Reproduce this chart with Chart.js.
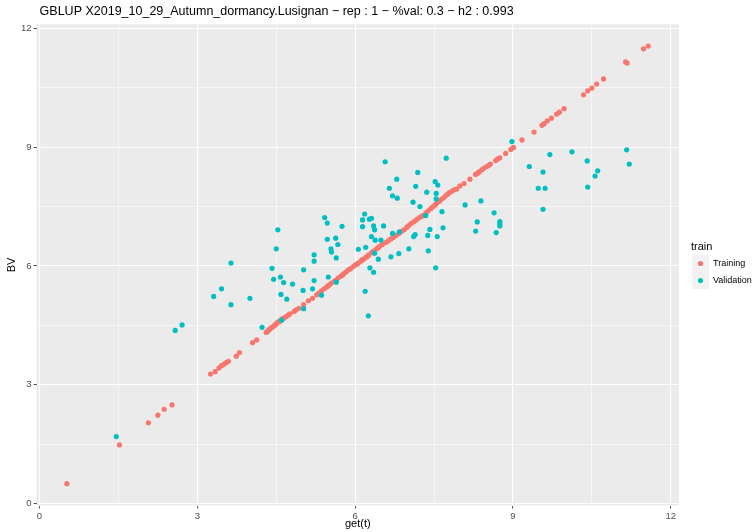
<!DOCTYPE html>
<html>
<head>
<meta charset="utf-8">
<script src="https://cdn.jsdelivr.net/npm/chart.js@4.4.1/dist/chart.umd.min.js"></script>
<style>
  html, body { margin: 0; padding: 0; background: #ffffff; }
  #wrap { width: 754px; height: 532px; position: relative; }
</style>
</head>
<body>
<div id="wrap"><canvas id="myChart" width="754" height="532"></canvas></div>
<script>
// training set: get(t) vs BV
const trainX = [
  0.52, 1.52, 2.07, 2.25, 2.37, 2.52, 3.25, 3.34, 3.41, 3.46, 3.51, 3.55, 3.59, 3.74, 3.80, 4.05, 4.13,
  4.31, 4.33, 4.34, 4.36, 4.38, 4.40, 4.43, 4.46, 4.48, 4.50, 4.53, 4.55, 4.57, 4.60, 4.62, 4.64, 4.69,
  4.71, 4.74, 4.76, 4.84, 4.88, 4.93, 5.02, 5.11, 5.19, 5.27, 5.30, 5.32, 5.36, 5.41, 5.46, 5.48, 5.50,
  5.54, 5.59, 5.62, 5.64, 5.68, 5.73, 5.76, 5.78, 5.82, 5.86, 5.89, 5.92, 5.97, 6.01, 6.04, 6.06, 6.11,
  6.13, 6.16, 6.21, 6.24, 6.26, 6.31, 6.34, 6.36, 6.41, 6.44, 6.47, 6.52, 6.58, 6.63, 6.68, 6.73, 6.78,
  6.83, 6.88, 6.93, 6.98, 7.02, 7.06, 7.11, 7.16, 7.21, 7.26, 7.30, 7.35, 7.39, 7.44, 7.48, 7.52, 7.55,
  7.60, 7.64, 7.68, 7.72, 7.76, 7.79, 7.84, 7.88, 7.93, 7.99, 8.07, 8.18, 8.29, 8.33, 8.36, 8.41, 8.45,
  8.50, 8.54, 8.57, 8.67, 8.71, 8.75, 8.86, 8.96, 9.01, 9.17, 9.40, 9.55, 9.59, 9.65, 9.73, 9.83, 9.88,
  9.97, 10.34, 10.42, 10.50, 10.59, 10.72, 11.14, 11.17, 11.48, 11.57
];
const trainY = [
  0.50, 1.48, 2.04, 2.23, 2.38, 2.49, 3.27, 3.33, 3.42, 3.48, 3.52, 3.56, 3.59, 3.72, 3.81, 4.06, 4.13,
  4.32, 4.34, 4.36, 4.38, 4.41, 4.43, 4.46, 4.49, 4.51, 4.54, 4.58, 4.59, 4.61, 4.65, 4.66, 4.68, 4.72,
  4.74, 4.77, 4.79, 4.85, 4.89, 4.93, 5.02, 5.12, 5.18, 5.27, 5.30, 5.32, 5.37, 5.42, 5.47, 5.49, 5.51,
  5.56, 5.60, 5.62, 5.64, 5.70, 5.74, 5.77, 5.80, 5.84, 5.89, 5.91, 5.94, 5.99, 6.03, 6.05, 6.07, 6.12,
  6.15, 6.17, 6.22, 6.25, 6.28, 6.33, 6.36, 6.38, 6.43, 6.46, 6.50, 6.54, 6.59, 6.63, 6.68, 6.72, 6.77,
  6.82, 6.87, 6.91, 6.97, 7.02, 7.07, 7.11, 7.16, 7.21, 7.25, 7.28, 7.34, 7.39, 7.45, 7.50, 7.54, 7.58,
  7.63, 7.68, 7.72, 7.77, 7.81, 7.85, 7.89, 7.92, 7.94, 8.02, 8.08, 8.19, 8.31, 8.34, 8.38, 8.43, 8.47,
  8.51, 8.54, 8.57, 8.66, 8.70, 8.73, 8.84, 8.94, 8.99, 9.18, 9.38, 9.55, 9.59, 9.66, 9.73, 9.83, 9.88,
  9.97, 10.32, 10.42, 10.49, 10.59, 10.72, 11.15, 11.12, 11.48, 11.55
];

// validation set
const validX = [
  1.46, 2.58, 2.71, 3.31, 3.46, 3.64, 3.64, 4.00, 4.23, 4.42, 4.45, 4.50, 4.53, 4.58, 4.59, 4.64, 4.70,
  4.60, 4.81, 5.01, 5.02, 5.02, 5.19, 5.22, 5.22, 5.22, 5.36, 5.42, 5.47, 5.47, 5.49, 5.54, 5.55, 5.63,
  5.64, 5.67, 5.75, 5.64, 6.06, 6.14, 6.14, 6.18, 6.20, 6.19, 6.25, 6.27, 6.31, 6.28, 6.31, 6.35, 6.35,
  6.37, 6.37, 6.44, 6.38, 6.49, 6.54, 6.57, 6.65, 6.68, 6.71, 6.71, 6.79, 6.80, 6.83, 6.84, 7.02, 7.10,
  7.11, 7.14, 7.15, 7.19, 7.23, 7.34, 7.36, 7.38, 7.39, 7.42, 7.52, 7.54, 7.54, 7.56, 7.53, 7.57, 7.65,
  7.67, 7.73, 8.09, 8.29, 8.32, 8.39, 8.64, 8.68, 8.75, 8.75, 8.75, 8.98, 9.31, 9.48, 9.57, 9.57, 9.61,
  9.70, 10.12, 10.41, 10.61, 10.56, 10.42, 11.16, 11.21
];
const validY = [
  1.69, 4.37, 4.51, 5.23, 5.42, 6.07, 5.02, 5.18, 4.45, 5.94, 5.66, 6.43, 6.91, 5.72, 5.28, 5.58, 5.16,
  4.63, 5.54, 5.38, 5.90, 4.92, 5.42, 6.12, 6.28, 5.63, 5.26, 7.22, 7.08, 6.67, 5.72, 6.43, 6.35, 6.70,
  6.20, 6.54, 7.00, 5.59, 6.42, 7.16, 6.99, 7.31, 6.47, 5.36, 4.74, 7.18, 7.20, 5.95, 6.74, 7.01, 5.84,
  6.91, 6.32, 6.17, 6.65, 6.65, 7.01, 8.63, 7.96, 6.23, 7.77, 6.82, 8.19, 7.71, 6.31, 6.86, 6.43, 7.61,
  6.74, 6.79, 8.01, 8.36, 7.50, 7.27, 7.86, 6.77, 6.38, 6.92, 8.13, 7.83, 7.69, 6.74, 5.95, 8.04, 7.37,
  6.96, 8.72, 7.54, 6.88, 7.11, 7.64, 7.34, 6.84, 7.12, 7.06, 7.01, 9.14, 8.51, 7.96, 8.37, 7.43, 7.96,
  8.81, 8.88, 8.65, 8.40, 8.27, 7.99, 8.93, 8.57
];

const tickValues = [0, 3, 6, 9, 12];
const seriesNames = ['Training', 'Validation'];
const seriesColors = ['#F8766D', '#00BFC4'];
const chartTitle = 'GBLUP X2019_10_29_Autumn_dormancy.Lusignan \u2212 rep : 1 \u2212 %val: 0.3 \u2212 h2 : 0.993';
const xTitle = 'get(t)';
const yTitle = 'BV';
const legendTitle = 'train';

const FONT = '"Liberation Sans", Arial, sans-serif';

const toPoints = (xs, ys) => xs.map((x, i) => ({ x: x, y: ys[i] }));

// major ticks every 3, minor grid every 1.5
const gridValues = [];
for (let v = 0; v <= 12; v += 1.5) gridValues.push(v);
const isMajor = (v) => tickValues.includes(v);

const ggPlugin = {
  id: 'ggLook',
  beforeDraw(chart) {
    const { ctx, chartArea: a } = chart;
    ctx.save();
    ctx.fillStyle = '#EBEBEB';
    ctx.fillRect(a.left, a.top, a.right - a.left, a.bottom - a.top);
    ctx.restore();
  },
  afterDraw(chart) {
    const { ctx, chartArea: a } = chart;
    ctx.save();
    ctx.fillStyle = '#000000';
    ctx.textBaseline = 'middle';

    // title
    ctx.font = '12.5px ' + FONT;
    ctx.textAlign = 'left';
    ctx.fillText(chartTitle, a.left + 3, 12);

    // axis titles
    ctx.font = '11px ' + FONT;
    ctx.textAlign = 'center';
    ctx.fillText(xTitle, (a.left + a.right) / 2, 524);
    ctx.save();
    ctx.translate(12, (a.top + a.bottom) / 2);
    ctx.rotate(-Math.PI / 2);
    ctx.fillText(yTitle, 0, 0);
    ctx.restore();

    // legend
    ctx.textAlign = 'left';
    ctx.font = '11px ' + FONT;
    ctx.fillText(legendTitle, 691, 247);
    ctx.font = '9px ' + FONT;
    seriesNames.forEach((name, i) => {
      const top = 255 + i * 17;
      ctx.fillStyle = '#F2F2F2';
      ctx.fillRect(692, top, 17, 17);
      ctx.fillStyle = seriesColors[i];
      ctx.beginPath();
      ctx.arc(700.5, top + 8.5, 2.6, 0, Math.PI * 2);
      ctx.fill();
      ctx.fillStyle = '#000000';
      ctx.fillText(name, 713, top + 9);
    });
    ctx.restore();
  }
};

const axisOpts = (min, max, fitKey, fitSize) => ({
  type: 'linear',
  min: min,
  max: max,
  afterBuildTicks: (scale) => { scale.ticks = gridValues.map((v) => ({ value: v })); },
  afterFit: (scale) => { scale[fitKey] = fitSize; },
  border: { display: false },
  grid: {
    color: '#FFFFFF',
    lineWidth: (c) => (isMajor(c.tick.value) ? 1.1 : 0.55),
    drawTicks: true,
    tickLength: 3,
    tickColor: (c) => (isMajor(c.tick.value) ? '#4D4D4D' : 'rgba(0,0,0,0)'),
    tickWidth: 1
  },
  ticks: {
    autoSkip: false,
    maxRotation: 0,
    padding: 2,
    color: '#4D4D4D',
    font: { family: FONT, size: 9.5 },
    callback: (v) => (isMajor(v) ? String(v) : '')
  }
});

new Chart(document.getElementById('myChart'), {
  type: 'scatter',
  data: {
    datasets: [
      {
        label: seriesNames[0],
        data: toPoints(trainX, trainY),
        backgroundColor: seriesColors[0],
        borderWidth: 0,
        pointRadius: 2.6,
        order: 2
      },
      {
        label: seriesNames[1],
        data: toPoints(validX, validY),
        backgroundColor: seriesColors[1],
        borderWidth: 0,
        pointRadius: 2.6,
        order: 1
      }
    ]
  },
  options: {
    responsive: false,
    animation: false,
    layout: { padding: { left: 0, top: 24.3, right: 75, bottom: 0 } },
    plugins: {
      legend: { display: false },
      tooltip: { enabled: false }
    },
    scales: {
      x: axisOpts(-0.055, 12.155, 'height', 26.5),
      y: axisOpts(-0.05, 12.1, 'width', 36.6)
    }
  },
  plugins: [ggPlugin]
});
</script>
</body>
</html>
